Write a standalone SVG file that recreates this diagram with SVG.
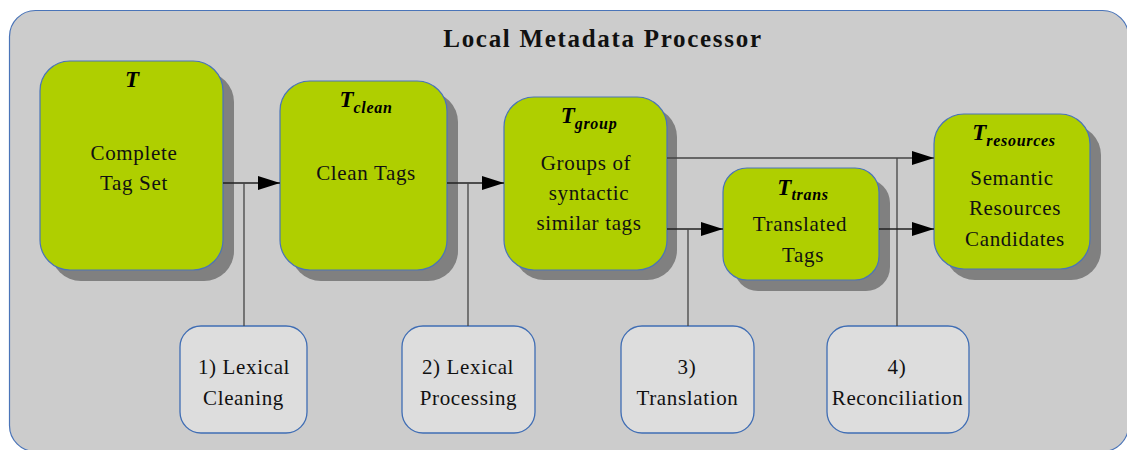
<svg xmlns="http://www.w3.org/2000/svg" width="1127" height="450" viewBox="0 0 1127 450">
  <style>
    .frame { fill: #cccccc; stroke: #4a74b8; stroke-width: 1.2; }
    .shadow { fill: #808080; }
    .set { fill: #afcf00; stroke: #4a74b8; stroke-width: 1.2; }
    .step { fill: #dddddd; stroke: #3f6db4; stroke-width: 1.3; }
    .txt { font-family: 'Liberation Serif', 'DejaVu Serif', serif; font-size: 21px; letter-spacing: 0.65px; fill: #111; text-anchor: middle; }
    .title { font-family: 'Liberation Serif', 'DejaVu Serif', serif; font-size: 25px; font-weight: bold; letter-spacing: 1.7px; fill: #111; text-anchor: middle; }
    .sym { font-family: 'Liberation Serif', 'DejaVu Serif', serif; font-size: 23px; font-weight: bold; font-style: italic; fill: #000; text-anchor: middle; }
    .sub { font-size: 16px; letter-spacing: 0.7px; }
    .wire { fill: none; stroke: #222; stroke-width: 1.3; }
    .feed { fill: none; stroke: #444; stroke-width: 1.3; }
  </style>
  <defs>
    <marker id="arrow" markerUnits="userSpaceOnUse" markerWidth="22" markerHeight="14" refX="22" refY="7" orient="auto">
      <path d="M0,0 L22,7 L0,14 z" fill="#000"/>
    </marker>
  </defs>

  <!-- processor frame -->
  <g id="processor">
    <rect class="frame" x="9.5" y="10.5" width="1119" height="441" rx="26"/>
    <text class="title" x="603" y="47">Local Metadata Processor</text>
  </g>

  <!-- tag sets -->
  <g id="t-complete">
    <rect class="shadow" x="51" y="72" width="183" height="209" rx="30"/>
    <rect class="set" x="40" y="61" width="183" height="209" rx="30"/>
    <text class="sym" x="132" y="87">T</text>
    <text class="txt" x="134" y="160">Complete</text>
    <text class="txt" x="134" y="190">Tag Set</text>
  </g>

  <g id="t-clean">
    <rect class="shadow" x="291" y="92" width="167" height="189" rx="30"/>
    <rect class="set" x="280" y="81" width="167" height="189" rx="30"/>
    <text class="sym" x="366" y="107">T<tspan class="sub" dy="6">clean</tspan></text>
    <text class="txt" x="366" y="180">Clean Tags</text>
  </g>

  <g id="t-group">
    <rect class="shadow" x="514" y="107" width="163" height="173" rx="30"/>
    <rect class="set" x="504" y="97" width="163" height="173" rx="30"/>
    <text class="sym" x="589" y="123">T<tspan class="sub" dy="6">group</tspan></text>
    <text class="txt" x="586" y="170">Groups of</text>
    <text class="txt" x="589" y="200">syntactic</text>
    <text class="txt" x="589" y="230">similar tags</text>
  </g>

  <g id="t-trans">
    <rect class="shadow" x="734" y="179" width="156" height="112" rx="24"/>
    <rect class="set" x="723" y="168" width="156" height="112" rx="24"/>
    <text class="sym" x="803" y="195">T<tspan class="sub" dy="5">trans</tspan></text>
    <text class="txt" x="800" y="231">Translated</text>
    <text class="txt" x="803" y="262">Tags</text>
  </g>

  <g id="t-resources">
    <rect class="shadow" x="945" y="125" width="156" height="155" rx="30"/>
    <rect class="set" x="934" y="114" width="156" height="155" rx="30"/>
    <text class="sym" x="1014" y="140">T<tspan class="sub" dy="6">resources</tspan></text>
    <text class="txt" x="1012" y="185">Semantic</text>
    <text class="txt" x="1015" y="215">Resources</text>
    <text class="txt" x="1015" y="246">Candidates</text>
  </g>

  <!-- processing steps -->
  <g id="step-cleaning">
    <rect class="step" x="180" y="326" width="127" height="107" rx="21"/>
    <text class="txt" x="244" y="374">1) Lexical</text>
    <text class="txt" x="243.5" y="405">Cleaning</text>
  </g>

  <g id="step-processing">
    <rect class="step" x="402" y="326" width="133" height="107" rx="21"/>
    <text class="txt" x="468" y="374">2) Lexical</text>
    <text class="txt" x="468.5" y="405">Processing</text>
  </g>

  <g id="step-translation">
    <rect class="step" x="621" y="326" width="133" height="107" rx="21"/>
    <text class="txt" x="687" y="374">3)</text>
    <text class="txt" x="687.5" y="405">Translation</text>
  </g>

  <g id="step-reconciliation">
    <rect class="step" x="827" y="326" width="142" height="107" rx="21"/>
    <text class="txt" x="897" y="374">4)</text>
    <text class="txt" x="897.5" y="405">Reconciliation</text>
  </g>

  <!-- connectors -->
  <g id="connectors">
    <path class="wire" d="M223,183 H280" marker-end="url(#arrow)"/>
    <path class="feed" d="M244,326 V183"/>
    <path class="wire" d="M447,183 H504" marker-end="url(#arrow)"/>
    <path class="feed" d="M468,326 V183"/>
    <path class="wire" d="M667,229 H723" marker-end="url(#arrow)"/>
    <path class="feed" d="M688,326 V229"/>
    <path class="feed" d="M667,158 H934" marker-end="url(#arrow)"/>
    <path class="feed" d="M897,326 V158"/>
    <path class="wire" d="M879,229 H934" marker-end="url(#arrow)"/>
  </g>
</svg>
